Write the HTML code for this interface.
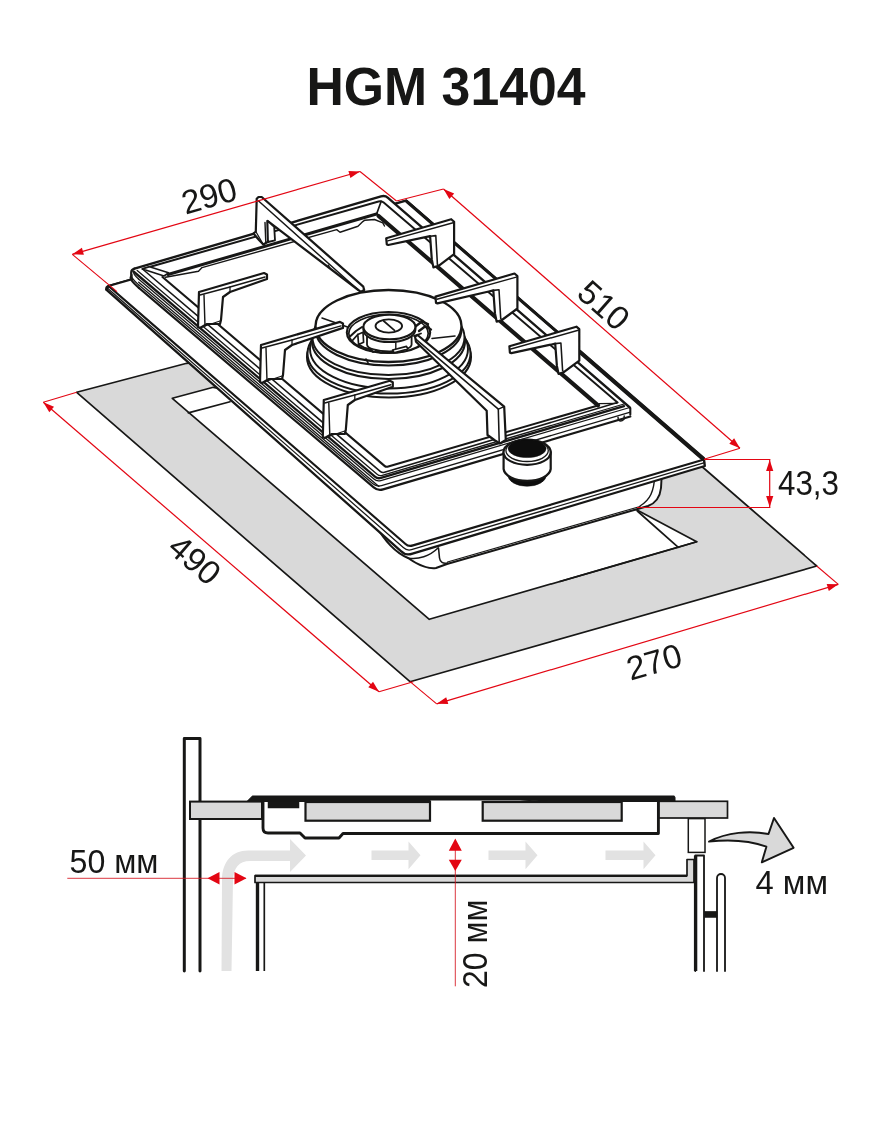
<!DOCTYPE html>
<html><head><meta charset="utf-8"><title>HGM 31404</title>
<style>
html,body{margin:0;padding:0;background:#fff;}
body{width:870px;height:1131px;overflow:hidden;font-family:"Liberation Sans",sans-serif;}
svg{display:block;font-family:"Liberation Sans",sans-serif;}
</style></head><body>
<svg width="870" height="1131" viewBox="0 0 870 1131">
<rect width="870" height="1131" fill="#fff"/>
<g opacity="0.999">
<text x="446.0" y="104.7" font-size="54.5" font-weight="bold" text-anchor="middle" fill="#171716" transform="rotate(0.00 446.0 104.7)" textLength="279" lengthAdjust="spacingAndGlyphs">HGM 31404</text>
<polygon points="76.7,392.3 410.0,681.7 816.7,566.0 703.0,467.5 400.0,330.0 186.7,363.3" fill="#d9d9d9" stroke="#171716" stroke-width="1.69" stroke-linejoin="round" />
<polygon points="172.3,398.3 429.3,619.3 696.7,541.7 637.0,510.0 400.0,420.0 213.3,387.3" fill="#fff" stroke="#171716" stroke-width="1.69" stroke-linejoin="round" />
<polyline points="188.3,412.9 230.0,401.7" fill="none" stroke="#171716" stroke-width="1.69" stroke-linejoin="round" stroke-linecap="round" />
<polyline points="637.3,511.0 678.3,547.3 696.7,541.7" fill="none" stroke="#171716" stroke-width="1.69" stroke-linejoin="round" stroke-linecap="round" />
<line x1="678.3" y1="547.3" x2="560.0" y2="581.5" stroke="#171716" stroke-width="1.69" stroke-linecap="round"/>
<path d="M375,524 C384,540 396,553 408,558 C418,565 428,569 436,568 L447,564 L648,506 C656,503 660,497 661,488 L662,470 L420,470 Z" fill="#fff" stroke="#171716" stroke-width="1.95" stroke-linejoin="round" stroke-linecap="round" />
<path d="M408,558 C418,560 430,556 438,548" fill="none" stroke="#171716" stroke-width="1.43" stroke-linejoin="round" stroke-linecap="round" />
<path d="M438.5,548 L439.5,558 C440,562 443,564 447.5,563" fill="none" stroke="#171716" stroke-width="1.56" stroke-linejoin="round" stroke-linecap="round" />
<line x1="447.5" y1="562.0" x2="640.0" y2="506.5" stroke="#171716" stroke-width="1.3" stroke-linecap="round"/>
<path d="M640,506 C650,500 654,492 655,474" fill="none" stroke="#171716" stroke-width="1.43" stroke-linejoin="round" stroke-linecap="round" />
<path d="M106.3,289.6 L401.2,551.3 Q405.5,556 412.5,553.6 L704.8,466 L704,459.5 L406,200.7 L108.5,286 Z" fill="#fff" stroke="#171716" stroke-width="2.34" stroke-linejoin="round" stroke-linecap="round" />
<path d="M108.5,286 L406,200.7 L704,459.5 L413,545.4 Q408.5,546.8 405.5,544 Z" fill="#fff" stroke="#171716" stroke-width="2.21" stroke-linejoin="round" stroke-linecap="round" />
<path d="M107.3,288 L403.3,547.6 Q407,551 411.5,549.7 L704.6,462.7" fill="none" stroke="#171716" stroke-width="1.3" stroke-linejoin="round" stroke-linecap="round" />
<path d="M106.3,289.6 Q105.6,286.8 108.5,286" fill="none" stroke="#171716" stroke-width="1.95" stroke-linejoin="round" stroke-linecap="round" />
<line x1="406.5" y1="201.2" x2="703.5" y2="459.0" stroke="#171716" stroke-width="3.12" stroke-linecap="round"/>
<line x1="580.0" y1="352.0" x2="703.3" y2="458.8" stroke="#171716" stroke-width="4.29" stroke-linecap="round"/>
<polygon points="137.0,284.5 131.2,277.0 131.3,271.0 133.0,269.0 385.0,195.2 629.8,407.5 630.3,414.5 377.9,491.0" fill="#fff" stroke="none" stroke-width="0" stroke-linejoin="round" />
<path d="M131.2,276.6 Q128.6,279.1 139.0,288.0" fill="none" stroke="#171716" stroke-width="2.21" stroke-linejoin="round" stroke-linecap="round" />
<path d="M139.0,288.0 L373.7,487.4 Q377.9,491.0 383.1,489.4 L630.3,416.5" fill="none" stroke="#171716" stroke-width="2.21" stroke-linejoin="round" stroke-linecap="round" />
<path d="M132.1,274.9 Q130.0,277.4 138.8,284.9" fill="none" stroke="#171716" stroke-width="1.3" stroke-linejoin="round" stroke-linecap="round" />
<path d="M138.8,284.9 L372.9,483.8 Q376.7,487.0 381.5,485.6 L630.3,412.2" fill="none" stroke="#171716" stroke-width="1.3" stroke-linejoin="round" stroke-linecap="round" />
<path d="M133.7,271.6 Q132.7,274.1 138.5,279.0" fill="none" stroke="#171716" stroke-width="1.3" stroke-linejoin="round" stroke-linecap="round" />
<path d="M138.5,279.0 L373.9,479.1 Q376.9,481.7 380.8,480.6 L629.8,407.5" fill="none" stroke="#171716" stroke-width="1.3" stroke-linejoin="round" stroke-linecap="round" />
<path d="M133.5,271.5 L374.9,476.6 Q377.6,478.9 381.0,477.9 L624.0,406.2" fill="none" stroke="#171716" stroke-width="2.34" stroke-linejoin="round" stroke-linecap="round" />
<path d="M137.2,270.5 L377.1,474.2 Q379.4,476.2 382.3,475.3 L624.0,404.0" fill="none" stroke="#171716" stroke-width="1.3" stroke-linejoin="round" stroke-linecap="round" />
<path d="M142.5,269.0 L380.2,471.3 Q382.1,472.9 384.5,472.2 L617.5,402.5" fill="none" stroke="#171716" stroke-width="1.56" stroke-linejoin="round" stroke-linecap="round" />
<path d="M162.5,277.0 L384.8,466.1 Q386.0,467.1 387.4,466.7 L598.0,405.4" fill="none" stroke="#171716" stroke-width="2.08" stroke-linejoin="round" stroke-linecap="round" />
<line x1="138.7" y1="282.2" x2="378.9" y2="486.4" stroke="#171716" stroke-width="1.3" stroke-linecap="round"/>
<path d="M131.2,276.8 L131.2,272.5 Q131.3,269.3 134.5,268.6" fill="none" stroke="#171716" stroke-width="2.21" stroke-linejoin="round" stroke-linecap="round" />
<line x1="630.3" y1="408.0" x2="630.3" y2="414.5" stroke="#171716" stroke-width="2.08" stroke-linecap="round"/>
<path d="M618,417.2 L618.4,420 Q621,422.3 624,419.2 L624.2,416" fill="none" stroke="#171716" stroke-width="1.43" stroke-linejoin="round" stroke-linecap="round" />
<path d="M134.5,268.6 L381.0,196.4 Q385.0,195.2 388.0,197.8 L629.8,407.5" fill="none" stroke="#171716" stroke-width="2.34" stroke-linejoin="round" stroke-linecap="round" />
<path d="M142.5,269.0 L378.5,201.5 Q381.5,200.6 383.7,202.5 L617.5,402.5" fill="none" stroke="#171716" stroke-width="1.95" stroke-linejoin="round" stroke-linecap="round" />
<line x1="381.2" y1="201.2" x2="376.8" y2="213.5" stroke="#171716" stroke-width="1.69" stroke-linecap="round"/>
<polygon points="142.5,269.0 149.5,266.8 168.5,272.8 164.0,276.0" fill="#fff" stroke="#171716" stroke-width="1.56" stroke-linejoin="round" />
<line x1="168.0" y1="274.5" x2="376.5" y2="214.0" stroke="#171716" stroke-width="2.99" stroke-linecap="round"/>
<line x1="378.6" y1="216.0" x2="598.0" y2="405.4" stroke="#171716" stroke-width="4.16" stroke-linecap="round"/>
<polyline points="165.5,277.2 198.5,271.2 202.0,267.6 336.7,229.6 340.0,232.2 358.0,226.2 362.8,221.6 364.8,220.2 374.5,219.5 382.8,222.8 384.5,226.0" fill="none" stroke="#171716" stroke-width="1.43" stroke-linejoin="round" stroke-linecap="round" />
<line x1="599.0" y1="403.6" x2="616.5" y2="403.4" stroke="#171716" stroke-width="1.3" stroke-linecap="round"/>
<ellipse cx="389.0" cy="357.0" rx="82.0" ry="40.5" fill="#fff" stroke="#171716" stroke-width="2.08" />
<ellipse cx="389.0" cy="353.5" rx="81.5" ry="40.0" fill="#fff" stroke="#171716" stroke-width="1.95" />
<ellipse cx="389.0" cy="349.0" rx="79.0" ry="39.5" fill="#fff" stroke="#171716" stroke-width="1.95" />
<ellipse cx="388.5" cy="341.5" rx="76.5" ry="37.5" fill="#fff" stroke="#171716" stroke-width="2.08" />
<ellipse cx="388.5" cy="337.5" rx="76.0" ry="37.5" fill="#fff" stroke="#171716" stroke-width="1.95" />
<ellipse cx="388.5" cy="329.5" rx="73.0" ry="36.0" fill="#fff" stroke="#171716" stroke-width="2.08" />
<ellipse cx="388.5" cy="326.0" rx="73.0" ry="36.0" fill="#fff" stroke="#171716" stroke-width="2.34" />
<ellipse cx="388.5" cy="332.5" rx="41.7" ry="20.5" fill="#fff" stroke="#171716" stroke-width="2.08" />
<ellipse cx="388.5" cy="333.6" rx="39.7" ry="19.2" fill="#fff" stroke="#171716" stroke-width="1.69" />
<line x1="322.0" y1="318.0" x2="347.5" y2="327.0" stroke="#171716" stroke-width="1.56" stroke-linecap="round"/>
<line x1="432.0" y1="338.5" x2="455.0" y2="336.0" stroke="#171716" stroke-width="1.56" stroke-linecap="round"/>
<line x1="366.0" y1="359.0" x2="368.0" y2="362.5" stroke="#171716" stroke-width="1.56" stroke-linecap="round"/>
<polyline points="350.5,336.0 356.0,331.0 362.0,327.0" fill="none" stroke="#171716" stroke-width="2.08" stroke-linejoin="round" stroke-linecap="round" />
<polyline points="352.0,341.0 356.0,336.5 357.8,334.5" fill="none" stroke="#171716" stroke-width="1.82" stroke-linejoin="round" stroke-linecap="round" />
<polygon points="357.8,334.5 363.0,332.3 363.6,342.2 358.6,344.6" fill="#fff" stroke="#171716" stroke-width="1.69" stroke-linejoin="round" />
<polyline points="358.6,344.6 365.0,348.0 371.0,349.5 373.0,352.0" fill="none" stroke="#171716" stroke-width="1.95" stroke-linejoin="round" stroke-linecap="round" />
<polyline points="416.0,326.0 422.0,321.5 428.0,324.0" fill="none" stroke="#171716" stroke-width="2.34" stroke-linejoin="round" stroke-linecap="round" />
<polyline points="419.0,331.0 425.0,326.5 431.0,329.5" fill="none" stroke="#171716" stroke-width="2.34" stroke-linejoin="round" stroke-linecap="round" />
<polyline points="414.0,336.0 421.0,333.5" fill="none" stroke="#171716" stroke-width="1.82" stroke-linejoin="round" stroke-linecap="round" />
<path d="M367,336 L367,344.5 A22.3,7 0 0 0 411.6,344.5 L411.6,336" fill="#fff" stroke="#171716" stroke-width="1.82" stroke-linejoin="round" stroke-linecap="round" />
<line x1="395.8" y1="342.6" x2="395.8" y2="349.5" stroke="#171716" stroke-width="1.43" stroke-linecap="round"/>
<polygon points="392.6,350.0 406.5,346.4 407.8,349.0 394.0,352.8" fill="#fff" stroke="#171716" stroke-width="1.69" stroke-linejoin="round" />
<polyline points="376.0,350.5 381.0,352.8 384.0,352.5" fill="none" stroke="#171716" stroke-width="1.69" stroke-linejoin="round" stroke-linecap="round" />
<path d="M363.4,327 L363.4,329.8 A26,12.3 0 0 0 415.4,329.8 L415.4,327 Z" fill="#fff" stroke="#171716" stroke-width="1.95" stroke-linejoin="round" stroke-linecap="round" />
<ellipse cx="389.4" cy="327.0" rx="26.0" ry="12.3" fill="#fff" stroke="#171716" stroke-width="2.08" />
<ellipse cx="388.8" cy="326.0" rx="13.3" ry="6.6" fill="#fff" stroke="#171716" stroke-width="1.82" />
<line x1="383.7" y1="321.0" x2="394.5" y2="330.4" stroke="#171716" stroke-width="1.69" stroke-linecap="round"/>
<polygon points="256.7,198.8 258.5,197.0 261.7,197.0 363.3,286.7 364.2,290.0 361.0,291.8 358.3,290.0 267.5,220.8 268.0,241.7 263.3,244.5 259.0,240.0 253.5,233.5 255.8,231.5" fill="#fff" stroke="#171716" stroke-width="2.21" stroke-linejoin="round" />
<polygon points="267.5,220.8 274.2,226.9 275.0,240.3 268.0,242.0" fill="#fff" stroke="#171716" stroke-width="1.82" stroke-linejoin="round" />
<line x1="258.3" y1="200.8" x2="358.3" y2="290.0" stroke="#171716" stroke-width="1.43" stroke-linecap="round"/>
<line x1="265.0" y1="222.5" x2="265.8" y2="242.5" stroke="#171716" stroke-width="1.43" stroke-linecap="round"/>
<line x1="328.3" y1="265.0" x2="330.0" y2="268.3" stroke="#171716" stroke-width="1.3" stroke-linecap="round"/>
<line x1="255.8" y1="231.5" x2="263.3" y2="244.5" stroke="#171716" stroke-width="1.3" stroke-linecap="round"/>
<polygon points="386.2,238.2 451.2,219.2 454.1,221.8 454.1,254.2 438.6,265.8 433.4,267.4 431.8,259.4 430.1,236.2 425.4,237.2 388.2,245.0 386.8,244.5" fill="#fff" stroke="#171716" stroke-width="2.21" stroke-linejoin="round" />
<polyline points="387.8,240.9 453.1,222.8" fill="none" stroke="#171716" stroke-width="1.43" stroke-linejoin="round" stroke-linecap="round" />
<polyline points="430.1,236.2 435.8,235.6 437.4,264.1" fill="none" stroke="#171716" stroke-width="1.56" stroke-linejoin="round" stroke-linecap="round" />
<line x1="437.4" y1="264.1" x2="438.6" y2="265.8" stroke="#171716" stroke-width="1.3" stroke-linecap="round"/>
<polygon points="435.5,296.6 514.5,273.5 517.4,276.0 517.4,308.5 501.9,320.0 496.7,321.7 495.0,313.7 493.3,290.4 488.7,291.5 437.5,303.4 436.0,302.9" fill="#fff" stroke="#171716" stroke-width="2.21" stroke-linejoin="round" />
<polyline points="437.0,299.3 516.3,277.1" fill="none" stroke="#171716" stroke-width="1.43" stroke-linejoin="round" stroke-linecap="round" />
<polyline points="493.3,290.4 499.0,289.8 500.7,318.3" fill="none" stroke="#171716" stroke-width="1.56" stroke-linejoin="round" stroke-linecap="round" />
<line x1="500.7" y1="318.3" x2="501.9" y2="320.0" stroke="#171716" stroke-width="1.3" stroke-linecap="round"/>
<polygon points="509.4,346.3 576.4,326.7 579.3,329.2 579.3,360.7 563.8,372.2 558.6,373.9 556.9,365.9 555.2,343.6 550.6,344.7 511.4,353.1 509.9,352.6" fill="#fff" stroke="#171716" stroke-width="2.21" stroke-linejoin="round" />
<polyline points="510.9,349.0 578.2,330.3" fill="none" stroke="#171716" stroke-width="1.43" stroke-linejoin="round" stroke-linecap="round" />
<polyline points="555.2,343.6 560.9,343.0 562.6,370.5" fill="none" stroke="#171716" stroke-width="1.56" stroke-linejoin="round" stroke-linecap="round" />
<line x1="562.6" y1="370.5" x2="563.8" y2="372.2" stroke="#171716" stroke-width="1.3" stroke-linecap="round"/>
<polygon points="199.0,292.0 264.0,273.0 267.0,274.5 267.0,279.0 230.0,292.0 223.0,297.0 221.0,320.0 220.0,324.0 207.0,324.0 200.0,328.0 198.0,327.0" fill="#fff" stroke="#171716" stroke-width="2.21" stroke-linejoin="round" />
<polyline points="200.0,295.0 230.0,287.0 265.0,277.0" fill="none" stroke="#171716" stroke-width="1.43" stroke-linejoin="round" stroke-linecap="round" />
<line x1="204.0" y1="295.0" x2="205.0" y2="326.0" stroke="#171716" stroke-width="1.43" stroke-linecap="round"/>
<line x1="230.0" y1="287.0" x2="230.0" y2="292.0" stroke="#171716" stroke-width="1.3" stroke-linecap="round"/>
<line x1="205.0" y1="326.0" x2="220.0" y2="321.0" stroke="#171716" stroke-width="1.3" stroke-linecap="round"/>
<polygon points="261.0,345.0 340.0,321.9 343.0,323.4 343.0,327.9 292.0,345.0 285.0,350.0 283.0,375.0 282.0,379.0 269.0,379.0 262.0,383.0 260.0,382.0" fill="#fff" stroke="#171716" stroke-width="2.21" stroke-linejoin="round" />
<polyline points="262.0,348.0 292.0,340.0 341.0,325.9" fill="none" stroke="#171716" stroke-width="1.43" stroke-linejoin="round" stroke-linecap="round" />
<line x1="266.0" y1="348.0" x2="267.0" y2="381.0" stroke="#171716" stroke-width="1.43" stroke-linecap="round"/>
<line x1="292.0" y1="340.0" x2="292.0" y2="345.0" stroke="#171716" stroke-width="1.3" stroke-linecap="round"/>
<line x1="267.0" y1="381.0" x2="282.0" y2="376.0" stroke="#171716" stroke-width="1.3" stroke-linecap="round"/>
<polygon points="323.8,400.0 389.8,380.7 392.8,382.2 392.8,386.7 354.8,400.0 347.8,405.0 345.8,430.0 344.8,434.0 331.8,434.0 324.8,438.0 322.8,437.0" fill="#fff" stroke="#171716" stroke-width="2.21" stroke-linejoin="round" />
<polyline points="324.8,403.0 354.8,395.0 390.8,384.7" fill="none" stroke="#171716" stroke-width="1.43" stroke-linejoin="round" stroke-linecap="round" />
<line x1="328.8" y1="403.0" x2="329.8" y2="436.0" stroke="#171716" stroke-width="1.43" stroke-linecap="round"/>
<line x1="354.8" y1="395.0" x2="354.8" y2="400.0" stroke="#171716" stroke-width="1.3" stroke-linecap="round"/>
<line x1="329.8" y1="436.0" x2="344.8" y2="431.0" stroke="#171716" stroke-width="1.3" stroke-linecap="round"/>
<polygon points="415.0,336.5 417.5,335.0 504.2,406.7 505.8,440.0 500.0,443.5 495.0,440.5 487.5,435.0 486.7,410.8 416.0,341.7" fill="#fff" stroke="#171716" stroke-width="2.21" stroke-linejoin="round" />
<polyline points="415.8,339.2 498.3,409.2 499.2,442.0" fill="none" stroke="#171716" stroke-width="1.56" stroke-linejoin="round" stroke-linecap="round" />
<line x1="498.3" y1="409.2" x2="504.2" y2="406.7" stroke="#171716" stroke-width="1.43" stroke-linecap="round"/>
<ellipse cx="527.1" cy="475.0" rx="19.3" ry="11.3" fill="#0d0d0d" stroke="#0d0d0d" stroke-width="0.5" />
<path d="M503.6,452 L503.6,469 A23.6,12.6 0 0 0 550.7,469 L550.7,452 Z" fill="#fff" stroke="#171716" stroke-width="2.21" stroke-linejoin="round" stroke-linecap="round" />
<ellipse cx="527.1" cy="452.2" rx="23.6" ry="12.6" fill="#fff" stroke="#171716" stroke-width="2.21" />
<ellipse cx="527.1" cy="450.6" rx="21.2" ry="10.9" fill="#fff" stroke="#171716" stroke-width="1.3" />
<ellipse cx="527.1" cy="448.6" rx="19.0" ry="9.0" fill="#0d0d0d" stroke="#0d0d0d" stroke-width="0.5" />
<line x1="72.3" y1="254.3" x2="117.0" y2="291.7" stroke="#e30613" stroke-width="1.1" stroke-linecap="butt"/>
<line x1="360.0" y1="171.5" x2="396.5" y2="201.0" stroke="#e30613" stroke-width="1.1" stroke-linecap="butt"/>
<line x1="72.3" y1="254.3" x2="360.0" y2="171.5" stroke="#e30613" stroke-width="1.2" stroke-linecap="butt"/>
<polygon points="72.3,254.3 81.9,247.8 83.9,254.7" fill="#e30613"/>
<polygon points="360.0,171.5 350.4,178.0 348.4,171.1" fill="#e30613"/>
<text transform="translate(209.0 195.5) rotate(-16.00)" x="0" y="11.9" font-size="33.5" text-anchor="middle" fill="#171716" >290</text>
<line x1="396.5" y1="201.0" x2="443.5" y2="189.0" stroke="#e30613" stroke-width="1.1" stroke-linecap="butt"/>
<line x1="704.0" y1="459.3" x2="740.0" y2="448.3" stroke="#e30613" stroke-width="1.1" stroke-linecap="butt"/>
<line x1="443.5" y1="189.0" x2="740.0" y2="448.3" stroke="#e30613" stroke-width="1.2" stroke-linecap="butt"/>
<polygon points="443.5,189.0 454.2,193.5 449.4,199.0" fill="#e30613"/>
<polygon points="740.0,448.3 729.3,443.8 734.1,438.3" fill="#e30613"/>
<text transform="translate(604.0 305.0) rotate(41.50)" x="0" y="11.9" font-size="33.5" text-anchor="middle" fill="#171716" >510</text>
<line x1="704.0" y1="459.5" x2="770.4" y2="459.5" stroke="#e30613" stroke-width="1.1" stroke-linecap="butt"/>
<line x1="637.0" y1="507.5" x2="770.4" y2="507.5" stroke="#e30613" stroke-width="1.1" stroke-linecap="butt"/>
<line x1="769.7" y1="460.0" x2="769.7" y2="507.0" stroke="#e30613" stroke-width="1.2" stroke-linecap="butt"/>
<polygon points="769.7,460.0 773.3,471.0 766.1,471.0" fill="#e30613"/>
<polygon points="769.7,507.0 766.1,496.0 773.3,496.0" fill="#e30613"/>
<text x="778" y="494.6" font-size="35" fill="#171716" textLength="61" lengthAdjust="spacingAndGlyphs">43,3</text>
<line x1="43.3" y1="402.3" x2="76.7" y2="392.3" stroke="#e30613" stroke-width="1.1" stroke-linecap="butt"/>
<line x1="379.0" y1="691.7" x2="413.3" y2="681.7" stroke="#e30613" stroke-width="1.1" stroke-linecap="butt"/>
<line x1="43.3" y1="402.3" x2="379.0" y2="691.7" stroke="#e30613" stroke-width="1.2" stroke-linecap="butt"/>
<polygon points="43.3,402.3 54.0,406.8 49.3,412.2" fill="#e30613"/>
<polygon points="379.0,691.7 368.3,687.2 373.0,681.8" fill="#e30613"/>
<text transform="translate(195.0 559.6) rotate(41.00)" x="0" y="11.9" font-size="33.5" text-anchor="middle" fill="#171716" >490</text>
<line x1="410.0" y1="681.7" x2="436.7" y2="703.8" stroke="#e30613" stroke-width="1.1" stroke-linecap="butt"/>
<line x1="816.7" y1="566.0" x2="838.3" y2="584.3" stroke="#e30613" stroke-width="1.1" stroke-linecap="butt"/>
<line x1="436.7" y1="703.8" x2="838.3" y2="584.3" stroke="#e30613" stroke-width="1.2" stroke-linecap="butt"/>
<polygon points="436.7,703.8 446.2,697.2 448.3,704.1" fill="#e30613"/>
<polygon points="838.3,584.3 828.8,590.9 826.7,584.0" fill="#e30613"/>
<text transform="translate(654.0 661.7) rotate(-16.00)" x="0" y="11.9" font-size="33.5" text-anchor="middle" fill="#171716" >270</text>
<path d="M221.5,971 L222,880 C222,862 232,850.5 248,850.5 L290,850.5 L290,839 L306,855.5 L290,872 L290,861 L250,861 C239,861 233.5,868 233,880 L231.5,971 Z" fill="#e2e2e2" stroke="none" stroke-width="0" stroke-linejoin="round" stroke-linecap="round" />
<polygon points="371.5,850.5 408.5,850.5 408.5,841.5 420.5,855.3 408.5,869.3 408.5,860.0 371.5,860.0" fill="#e2e2e2" stroke="none" stroke-width="0" stroke-linejoin="round" />
<polygon points="488.5,850.5 525.5,850.5 525.5,841.5 537.5,855.3 525.5,869.3 525.5,860.0 488.5,860.0" fill="#e2e2e2" stroke="none" stroke-width="0" stroke-linejoin="round" />
<polygon points="605.5,850.5 643.5,850.5 643.5,841.5 655.5,855.3 643.5,869.3 643.5,860.0 605.5,860.0" fill="#e2e2e2" stroke="none" stroke-width="0" stroke-linejoin="round" />
<polyline points="184.3,971.0 184.3,738.5 200.0,738.5 200.0,971.0" fill="none" stroke="#171716" stroke-width="2.99" stroke-linejoin="round" stroke-linecap="round" stroke-linecap="butt"/>
<rect x="190.0" y="801.6" width="72.0" height="17.4" fill="#d9d9d9" stroke="#171716" stroke-width="2.0"/>
<rect x="658.4" y="801.3" width="69.1" height="16.7" fill="#d9d9d9" stroke="#171716" stroke-width="1.7"/>
<path d="M263,801 L263,828 Q263,833 268,833 L300,833 L305,838 L339,838 L343,833.5 L658.4,833.5 L658.4,801" fill="#fff" stroke="#171716" stroke-width="2.86" stroke-linejoin="round" stroke-linecap="round" />
<rect x="305.5" y="802.0" width="124.5" height="18.7" fill="#d9d9d9" stroke="#171716" stroke-width="2.2"/>
<rect x="482.7" y="802.0" width="139.0" height="18.7" fill="#d9d9d9" stroke="#171716" stroke-width="2.2"/>
<polygon points="247.0,801.6 252.5,796.0 674.0,796.0 675.0,797.5 675.0,801.6 548.0,801.6 520.0,800.0 430.0,800.0 430.0,801.6" fill="#171716" stroke="#171716" stroke-width="1.04" stroke-linejoin="round" />
<rect x="268.0" y="801.0" width="31.0" height="7.0" fill="#171716" stroke="#171716" stroke-width="0.5"/>
<path d="M255,875.7 L687,875.7 L687,859.5 L694,859.5 L694,882.5 L255,882.5 Z" fill="#d9d9d9" stroke="#171716" stroke-width="1.69" stroke-linejoin="round" stroke-linecap="round" />
<line x1="255.0" y1="875.9" x2="687.0" y2="875.9" stroke="#171716" stroke-width="2.21" stroke-linecap="butt"/>
<line x1="257.5" y1="882.5" x2="257.5" y2="971.0" stroke="#171716" stroke-width="3.38" stroke-linecap="butt"/>
<line x1="264.3" y1="882.5" x2="264.3" y2="971.0" stroke="#171716" stroke-width="1.69" stroke-linecap="butt"/>
<rect x="688.3" y="818.6" width="16.7" height="33.8" fill="#fff" stroke="#171716" stroke-width="1.5"/>
<path d="M695.3,971 L695.3,855.5 L704,855.5 L704,971" fill="#fff" stroke="#171716" stroke-width="1.82" stroke-linejoin="round" stroke-linecap="round" />
<line x1="695.6" y1="855.5" x2="695.6" y2="971.0" stroke="#171716" stroke-width="3.38" stroke-linecap="butt"/>
<path d="M717,971 L717,878 A4,4 0 0 1 725,878 L725,971" fill="#fff" stroke="#171716" stroke-width="1.82" stroke-linejoin="round" stroke-linecap="round" />
<rect x="704.5" y="911.3" width="12.5" height="6.2" fill="#171716" stroke="#171716" stroke-width="0.5"/>
<path d="M709,841.6 C727,832 750,830.5 768.5,834 L774,818 L793.6,847.8 L761.8,862.3 L766.4,846.7 C748,840 728,839.5 709,841.6 Z" fill="#d9d9d9" stroke="#171716" stroke-width="1.95" stroke-linejoin="round" stroke-linecap="round" />
<line x1="67.3" y1="878.3" x2="246.0" y2="878.3" stroke="#d3121c" stroke-width="0.85" stroke-linecap="butt"/>
<polygon points="207.5,878.3 219.5,872 219.5,884.6" fill="#e30613"/>
<polygon points="246.5,878.3 234.5,872 234.5,884.6" fill="#e30613"/>
<line x1="455.3" y1="840.0" x2="455.3" y2="986.3" stroke="#d3121c" stroke-width="0.85" stroke-linecap="butt"/>
<polygon points="455.3,838.5 448.8,850.7 461.8,850.7" fill="#e30613"/>
<polygon points="455.3,871 448.8,859.8 461.8,859.8" fill="#e30613"/>
<text x="69.5" y="873" font-size="34" fill="#171716" textLength="89" lengthAdjust="spacingAndGlyphs">50 мм</text>
<text x="755.5" y="894" font-size="34" fill="#171716" textLength="72.5" lengthAdjust="spacingAndGlyphs">4 мм</text>
<text transform="translate(487 988) rotate(-90)" x="0" y="0" font-size="35.5" fill="#171716" textLength="88.5" lengthAdjust="spacingAndGlyphs">20 мм</text>
</g>
</svg>
</body></html>
